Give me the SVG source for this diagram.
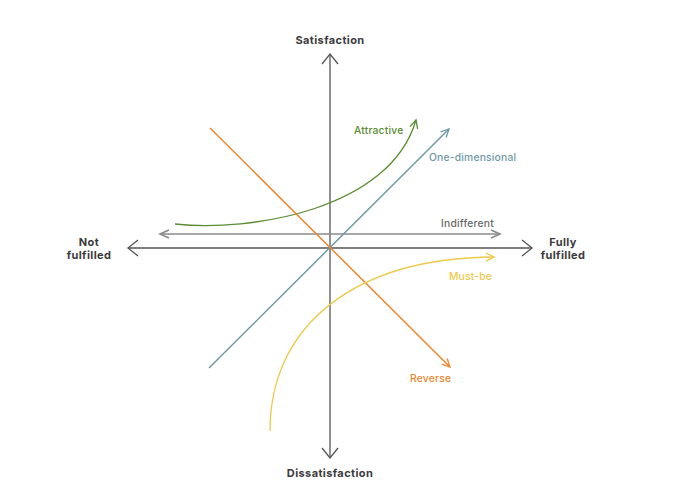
<svg xmlns="http://www.w3.org/2000/svg" width="676" height="480" viewBox="0 0 676 480">
<style>
.axis{stroke:#555;stroke-width:1.3;fill:none}
.ind{stroke:#8a8a8a;stroke-width:1.6;fill:none}
.lbl{font-family:Inter,"Liberation Sans",sans-serif;font-size:11px;font-weight:700;fill:#3c3c3c;text-anchor:middle;letter-spacing:0.4px}
.cl{font-family:Inter,"Liberation Sans",sans-serif;font-size:10.3px;font-weight:500;letter-spacing:0.2px}
</style>
<defs>
<marker id="ax" markerUnits="userSpaceOnUse" viewBox="-12 -10 14 20" refX="0" refY="0" markerWidth="14" markerHeight="20" orient="auto-start-reverse">
<path d="M-10,-8 L0,0 L-10,8" fill="none" stroke="#555" stroke-width="1.3"/>
</marker>
<marker id="ai" markerUnits="userSpaceOnUse" viewBox="-12 -6 14 12" refX="0" refY="0" markerWidth="14" markerHeight="12" orient="auto-start-reverse">
<path d="M-9,-4 L0,0 L-9,4" fill="none" stroke="#8a8a8a" stroke-width="1.6"/>
</marker>
<marker id="ag" markerUnits="userSpaceOnUse" viewBox="-10 -6 12 12" refX="0" refY="0" markerWidth="12" markerHeight="12" orient="auto">
<path d="M-8,-4 L0,0 L-8,4" fill="none" stroke="#5b8c32" stroke-width="1.3"/>
</marker>
<marker id="ab" markerUnits="userSpaceOnUse" viewBox="-10 -6 12 12" refX="0" refY="0" markerWidth="12" markerHeight="12" orient="auto">
<path d="M-8,-4 L0,0 L-8,4" fill="none" stroke="#6f9aa5" stroke-width="1.3"/>
</marker>
<marker id="ao" markerUnits="userSpaceOnUse" viewBox="-10 -6 12 12" refX="0" refY="0" markerWidth="12" markerHeight="12" orient="auto">
<path d="M-8,-4 L0,0 L-8,4" fill="none" stroke="#f0862e" stroke-width="1.3"/>
</marker>
<marker id="ay" markerUnits="userSpaceOnUse" viewBox="-10 -6 12 12" refX="0" refY="0" markerWidth="12" markerHeight="12" orient="auto">
<path d="M-8,-4 L0,0 L-8,4" fill="none" stroke="#edc94a" stroke-width="1.3"/>
</marker>
</defs>
<rect width="676" height="480" fill="#fff"/>
<g id="connectors">
<line class="axis" x1="330" y1="458" x2="330" y2="54" marker-start="url(#ax)" marker-end="url(#ax)"/>
<line class="axis" x1="128" y1="248" x2="532" y2="248" marker-start="url(#ax)" marker-end="url(#ax)"/>
<line class="ind" x1="160" y1="234" x2="500" y2="234" marker-start="url(#ai)" marker-end="url(#ai)"/>
<path d="M175,224 C250,232 390,210 416,120" fill="none" stroke="#5b8c32" stroke-width="1.3" marker-end="url(#ag)"/>
<line x1="209" y1="368" x2="449" y2="129" stroke="#6f9aa5" stroke-width="1.5" marker-end="url(#ab)"/>
<line x1="210" y1="128" x2="450" y2="367" stroke="#f0862e" stroke-width="1.5" marker-end="url(#ao)"/>
<path d="M270,431 C270,325 355,258 494,257" fill="none" stroke="#edc94a" stroke-width="1.3" marker-end="url(#ay)"/>
</g>
<g id="satisfaction"><text class="lbl" x="330" y="44">Satisfaction</text></g>
<g id="dissatisfaction"><text class="lbl" x="330" y="477">Dissatisfaction</text></g>
<g id="not-fulfilled"><text class="lbl" x="89" y="246">Not</text><text class="lbl" x="89" y="259">fulfilled</text></g>
<g id="fully-fulfilled"><text class="lbl" x="563" y="246">Fully</text><text class="lbl" x="563" y="259">fulfilled</text></g>
<g id="attractive"><text class="cl" x="354" y="134" fill="#5b8c32">Attractive</text></g>
<g id="one-dimensional"><text class="cl" x="429" y="161" fill="#6f9aa5">One-dimensional</text></g>
<g id="indifferent"><text class="cl" x="441" y="227" fill="#6a6a6a">Indifferent</text></g>
<g id="must-be"><text class="cl" x="449" y="280" fill="#edc94a">Must-be</text></g>
<g id="reverse"><text class="cl" x="410" y="382" fill="#f0862e">Reverse</text></g>
</svg>
